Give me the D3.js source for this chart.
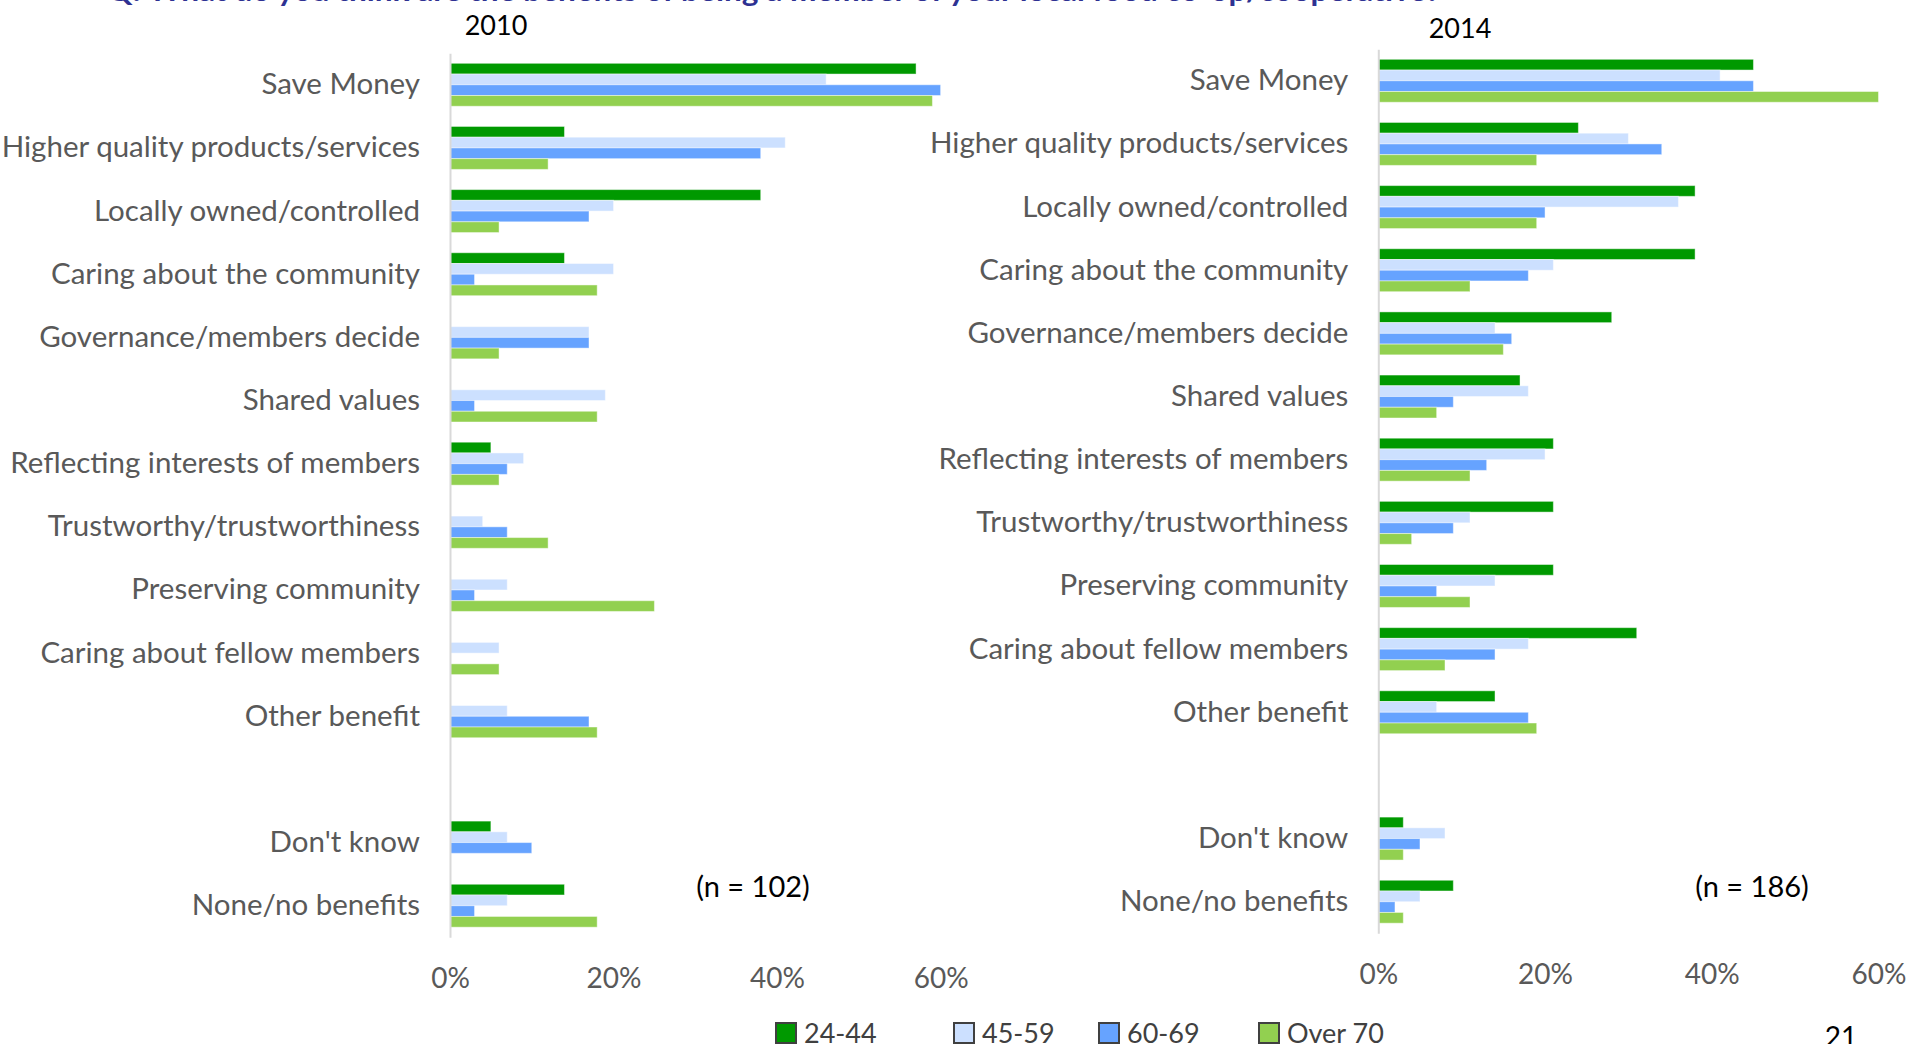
<!DOCTYPE html>
<html>
<head>
<meta charset="utf-8">
<script src="https://cdn.jsdelivr.net/npm/d3@7"></script>
<style>
  body { margin: 0; background: #fff; overflow: hidden; }
  svg { display: block; font-family: Lato, "Open Sans", sans-serif; }
</style>
</head>
<body>
<div id="chart"></div>
<script>
// categories (the empty one is the gap before "Don't know")
var categories = ["Save Money", "Higher quality products/services", "Locally owned/controlled",
  "Caring about the community", "Governance/members decide", "Shared values",
  "Reflecting interests of members", "Trustworthy/trustworthiness", "Preserving community",
  "Caring about fellow members", "Other benefit", " ", "Don't know", "None/no benefits"];

var ageGroups = ["24-44", "45-59", "60-69", "Over 70"];
var colors = ["#009900", "#cce0ff", "#66a3ff", "#92d050"];

// 2010 (n = 102), percent
var y2010_24_44  = [57, 14, 38, 14, 0, 0, 5, 0, 0, 0, 0, null, 5, 14];
var y2010_45_59  = [46, 41, 20, 20, 17, 19, 9, 4, 7, 6, 7, null, 7, 7];
var y2010_60_69  = [60, 38, 17, 3, 17, 3, 7, 7, 3, 0, 17, null, 10, 3];
var y2010_over70 = [59, 12, 6, 18, 6, 18, 6, 12, 25, 6, 18, null, 0, 18];

// 2014 (n = 186), percent
var y2014_24_44  = [45, 24, 38, 38, 28, 17, 21, 21, 21, 31, 14, null, 3, 9];
var y2014_45_59  = [41, 30, 36, 21, 14, 18, 20, 11, 14, 18, 7, null, 8, 5];
var y2014_60_69  = [45, 34, 20, 18, 16, 9, 13, 9, 7, 14, 18, null, 5, 2];
var y2014_over70 = [60, 19, 19, 11, 15, 7, 11, 4, 11, 8, 19, null, 3, 3];

var xTicks = [0, 20, 40, 60];

var W = 1913, H = 1044;

var svg = d3.select("#chart").append("svg")
  .attr("width", W)
  .attr("height", H);

// question title, cut off at the top edge like in the slide
svg.append("text")
  .attr("x", 107)
  .attr("y", 0.5)
  .attr("textLength", 1333)
  .attr("lengthAdjust", "spacingAndGlyphs")
  .attr("font-size", "28px")
  .attr("font-weight", "bold")
  .attr("fill", "#2e3192")
  .text("Q: What do you think are the benefits of being a member of your local food co-op/cooperative?");

function panel(opt) {
  var x = d3.scaleLinear().domain([0, 60]).range([opt.x0, opt.x1]);
  var y = d3.scaleBand().domain(categories).range([opt.y0, opt.y1])
    .paddingInner(0.32).paddingOuter(0.16);
  var sub = d3.scaleBand().domain(ageGroups).range([0, y.bandwidth()]);

  var g = svg.append("g");

  // bars
  opt.series.forEach(function(vals, si) {
    g.append("g").selectAll("rect")
      .data(categories.map(function(c, i) { return {cat: c, v: vals[i]}; })
        .filter(function(d) { return d.v; }))
      .enter()
      .append("rect")
      .attr("x", x(0))
      .attr("y", function(d) { return y(d.cat) + sub(ageGroups[si]); })
      .attr("width", function(d) { return x(d.v) - x(0); })
      .attr("height", sub.bandwidth())
      .attr("fill", colors[si])
      .attr("stroke", "#ffffff")
      .attr("stroke-opacity", 0.45)
      .attr("stroke-width", 1);
  });

  // category axis
  var ya = g.append("g")
    .attr("transform", "translate(" + x(0) + ",0)")
    .call(d3.axisLeft(y).tickSize(0).tickSizeOuter(0).tickPadding(30));
  ya.select(".domain").attr("stroke", "#d9d9d9").attr("stroke-width", 2);
  ya.selectAll("text")
    .attr("font-family", "Lato, sans-serif")
    .attr("font-size", "29.5px")
    .attr("fill", "#595959");

  // value axis (labels only)
  var xa = g.append("g")
    .attr("transform", "translate(0," + opt.y1 + ")")
    .call(d3.axisBottom(x).tickValues(xTicks).tickSize(0).tickPadding(31)
      .tickFormat(function(d) { return d + "%"; }));
  xa.select(".domain").remove();
  xa.selectAll("text")
    .attr("font-family", "Lato, sans-serif")
    .attr("font-size", "28px")
    .attr("fill", "#595959");

  // year title
  g.append("text")
    .attr("x", opt.titleX)
    .attr("y", opt.titleY)
    .attr("text-anchor", "middle")
    .attr("font-size", "27px")
    .attr("fill", "#000")
    .text(opt.title);

  // sample size
  g.append("text")
    .attr("x", opt.nX)
    .attr("y", 897)
    .attr("text-anchor", "middle")
    .attr("font-size", "29px")
    .attr("fill", "#000")
    .text(opt.n);
}

panel({
  x0: 450, x1: 940.6, y0: 53.2, y1: 937.3,
  series: [y2010_24_44, y2010_45_59, y2010_60_69, y2010_over70],
  title: "2010", titleX: 496, titleY: 35,
  n: "(n = 102)", nX: 753
});

panel({
  x0: 1378.3, x1: 1878.5, y0: 49.2, y1: 933.3,
  series: [y2014_24_44, y2014_45_59, y2014_60_69, y2014_over70],
  title: "2014", titleX: 1460, titleY: 38,
  n: "(n = 186)", nX: 1752
});

// legend
var legendX = [776, 954, 1099, 1259];
var lg = svg.append("g").selectAll("g")
  .data(ageGroups)
  .enter()
  .append("g")
  .attr("transform", function(d, i) { return "translate(" + legendX[i] + ",1023)"; });

lg.append("rect")
  .attr("width", 20)
  .attr("height", 20)
  .attr("fill", function(d, i) { return colors[i]; })
  .attr("stroke", "#404040")
  .attr("stroke-width", 2);

lg.append("text")
  .attr("x", 28)
  .attr("y", 20)
  .attr("font-size", "27px")
  .attr("fill", "#404040")
  .text(function(d) { return d; });

// page number
svg.append("text")
  .attr("x", 1841)
  .attr("y", 1047)
  .attr("text-anchor", "middle")
  .attr("font-size", "28px")
  .attr("fill", "#000")
  .text("21");
</script>
</body>
</html>
